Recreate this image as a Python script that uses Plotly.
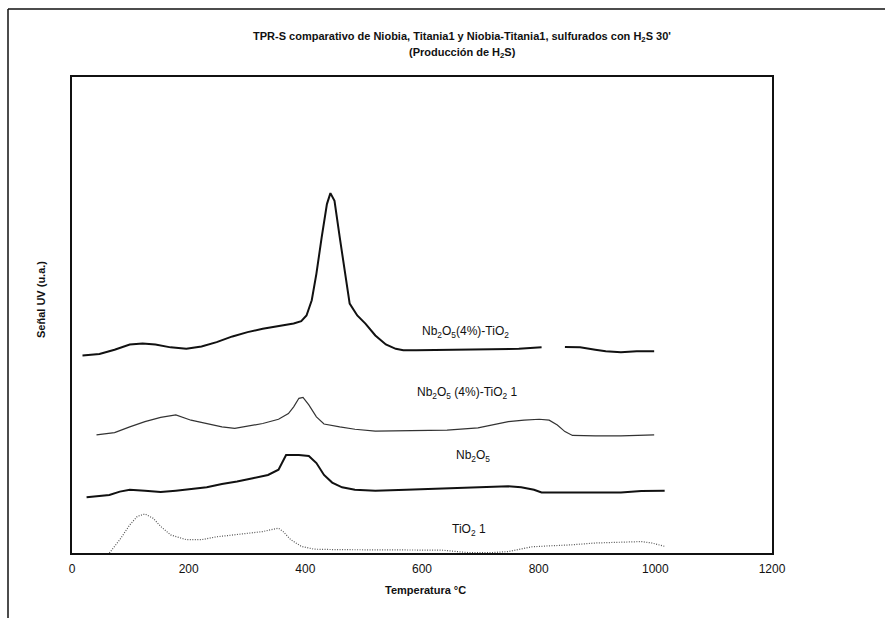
import plotly.graph_objects as go

# ---- data (temperature in °C, signal in arbitrary units 0-100) ----
temp_nbti = [18, 47, 73, 99, 121, 143, 169, 196, 222, 248, 275, 301, 327, 354, 380, 393, 402, 411, 419,
             428, 437, 443, 450, 459, 468, 476, 489, 503, 520, 538, 555, 568, 590, 634, 678, 722, 766, 805,
             825, 845, 871, 897, 915, 941, 968, 998]
sig_nbti = [41.5, 41.8, 42.7, 43.8, 44.0, 43.8, 43.2, 42.9, 43.4, 44.3, 45.5, 46.4, 47.1, 47.6, 48.2, 48.7,
            49.9, 53.1, 58.7, 66.3, 73.3, 75.6, 74.0, 66.3, 58.7, 52.4, 49.9, 48.2, 45.7, 43.8, 42.9, 42.6,
            42.6, 42.7, 42.7, 42.9, 42.9, 43.2, None, 43.3, 43.2, 42.7, 42.4, 42.2, 42.4, 42.4]

temp_nbti1 = [42, 73, 99, 125, 152, 178, 204, 231, 257, 279, 301, 327, 354, 371, 380, 389, 396, 406, 419,
              432, 459, 485, 520, 590, 643, 696, 722, 748, 775, 801, 818, 832, 845, 858, 897, 941, 998]
sig_nbti1 = [24.8, 25.3, 26.5, 27.6, 28.5, 29.0, 27.9, 27.2, 26.5, 26.2, 26.7, 27.2, 28.1, 29.3, 30.7, 32.5,
             32.7, 31.1, 28.6, 27.1, 26.5, 26.0, 25.6, 25.7, 25.8, 26.3, 27.0, 27.6, 27.9, 28.1, 27.9, 26.9,
             25.5, 24.7, 24.6, 24.6, 24.8]

temp_nb = [25, 47, 64, 82, 99, 125, 152, 178, 204, 231, 257, 283, 310, 336, 354, 362, 367, 389, 406, 419,
           432, 446, 463, 485, 520, 573, 634, 696, 748, 770, 792, 805, 854, 906, 941, 976, 1016]
sig_nb = [11.7, 11.9, 12.2, 12.9, 13.3, 13.1, 12.8, 13.1, 13.4, 13.8, 14.5, 15.0, 15.7, 16.4, 17.5, 19.6,
          20.6, 20.6, 20.4, 18.9, 16.4, 14.8, 13.8, 13.3, 13.1, 13.3, 13.5, 13.8, 14.0, 13.8, 13.3, 12.7,
          12.7, 12.7, 12.7, 13.0, 13.1]

temp_ti = [64, 82, 99, 112, 125, 139, 152, 169, 196, 222, 248, 275, 301, 327, 345, 354, 362, 375, 393, 415,
           459, 547, 634, 678, 722, 748, 766, 788, 818, 854, 897, 941, 976, 994, 1016]
sig_ti = [0.0, 2.8, 5.9, 7.7, 8.2, 7.3, 5.6, 3.8, 2.8, 2.8, 3.4, 3.8, 4.2, 4.5, 5.0, 5.2, 4.5, 2.8, 1.4, 0.8,
          0.7, 0.7, 0.6, 0.1, 0.1, 0.3, 0.7, 1.3, 1.5, 1.7, 2.1, 2.2, 2.4, 2.1, 1.4]

labels = ["Nb<sub>2</sub>O<sub>5</sub>(4%)-TiO<sub>2</sub>",
          "Nb<sub>2</sub>O<sub>5</sub> (4%)-TiO<sub>2</sub> 1",
          "Nb<sub>2</sub>O<sub>5</sub>",
          "TiO<sub>2</sub> 1"]
label_x = [674, 678, 688, 681]
label_y = [46.4, 33.6, 20.3, 4.8]

x_ticks = [0, 200, 400, 600, 800, 1000, 1200]

FONT = "Arial, Liberation Sans, sans-serif"

fig = go.Figure()
fig.add_trace(go.Scatter(x=temp_nbti, y=sig_nbti, mode="lines", connectgaps=False,
                         line=dict(color="#111111", width=2), showlegend=False))
fig.add_trace(go.Scatter(x=temp_nbti1, y=sig_nbti1, mode="lines",
                         line=dict(color="#333333", width=1.2), showlegend=False))
fig.add_trace(go.Scatter(x=temp_nb, y=sig_nb, mode="lines",
                         line=dict(color="#111111", width=2), showlegend=False))
fig.add_trace(go.Scatter(x=temp_ti, y=sig_ti, mode="lines",
                         line=dict(color="#555555", width=1.2, dash="1px,1.5px"), showlegend=False))

annotations = []
for t, lx, ly in zip(labels, label_x, label_y):
    annotations.append(dict(x=lx, y=ly, xref="x", yref="y", text=t, showarrow=False,
                            xanchor="center", yanchor="middle",
                            font=dict(family=FONT, size=12, color="#111111")))

def px2paper(px, py):
    return (px - 72) / 700.0, (553 - py) / 476.0

def page_text(px, py, text, size=11, angle=0):
    tx, ty = px2paper(px, py)
    return dict(x=tx, y=ty, xref="paper", yref="paper", showarrow=False, text=text,
                textangle=angle, xanchor="center", yanchor="middle",
                font=dict(family=FONT, size=size, color="#111111"))

annotations.append(page_text(462, 37,
    "<b>TPR-S comparativo de Niobia, Titania1 y Niobia-Titania1, sulfurados con H<sub>2</sub>S 30'</b>"))
annotations.append(page_text(462, 53, "<b>(Producción de H<sub>2</sub>S)</b>"))
annotations.append(page_text(41, 300, "<b>Señal UV (u.a.)</b>", size=11, angle=-90))
annotations.append(page_text(426, 590, "<b>Temperatura °C</b>"))

# outer chart border (top and left edges)
x0, y0 = px2paper(8, 9)
x1, _ = px2paper(885, 9)
_, y1 = px2paper(8, 618)
shapes = [
    dict(type="line", xref="paper", yref="paper", x0=x0, y0=y0, x1=x1, y1=y0,
         line=dict(color="#111111", width=1.5)),
    dict(type="line", xref="paper", yref="paper", x0=x0, y0=y0, x1=x0, y1=y1,
         line=dict(color="#111111", width=1.5)),
]

fig.update_layout(
    width=885, height=618,
    margin=dict(l=72, r=113, t=77, b=65),
    paper_bgcolor="white", plot_bgcolor="white",
    font=dict(family=FONT, color="#111111"),
    annotations=annotations, shapes=shapes,
    xaxis=dict(range=[0, 1200], tickvals=x_ticks, ticks="", showgrid=False, zeroline=False,
               showline=True, linecolor="#111111", linewidth=2, mirror=True,
               tickfont=dict(family=FONT, size=12, color="#111111"), ticklabelstandoff=4),
    yaxis=dict(range=[0, 100], showticklabels=False, ticks="", showgrid=False, zeroline=False,
               showline=True, linecolor="#111111", linewidth=2, mirror=True),
)

fig.write_html("out.html")
